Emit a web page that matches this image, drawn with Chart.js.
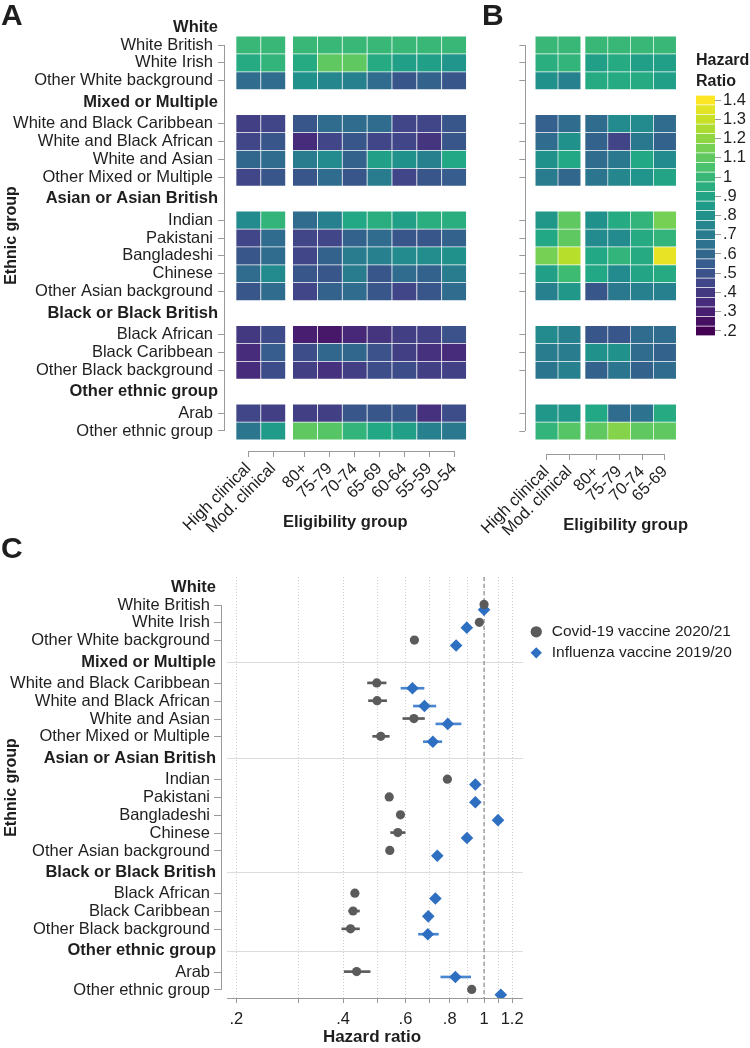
<!DOCTYPE html>
<html><head><meta charset="utf-8">
<script src="https://cdn.jsdelivr.net/npm/chart.js@4.4.1/dist/chart.umd.min.js"></script>
<style>
html,body{margin:0;padding:0;background:#fff;}
body{width:750px;height:1048px;position:relative;overflow:hidden;}
canvas{position:absolute;}
</style></head><body>
<canvas id="cA" width="480" height="535" style="left:0px;top:0px"></canvas>
<canvas id="cB" width="250" height="540" style="left:480px;top:0px"></canvas>
<canvas id="cL" width="70" height="400" style="left:680px;top:0px"></canvas>
<canvas id="cC" width="750" height="528" style="left:0px;top:520px"></canvas>
<script>
const FONT = "'Liberation Sans', Arial, Helvetica, sans-serif";
Chart.defaults.font.family = FONT;
Chart.defaults.color = '#1e1e1e';

// ---------------- DATA ----------------
const groupNames = ['White', 'Mixed or Multiple', 'Asian or Asian British', 'Black or Black British', 'Other ethnic group'];
const groupRows = [
  ['White British', 'White Irish', 'Other White background'],
  ['White and Black Caribbean', 'White and Black African', 'White and Asian', 'Other Mixed or Multiple'],
  ['Indian', 'Pakistani', 'Bangladeshi', 'Chinese', 'Other Asian background'],
  ['Black African', 'Black Caribbean', 'Other Black background'],
  ['Arab', 'Other ethnic group']
];
const eligA = ['High clinical', 'Mod. clinical', '80+', '75-79', '70-74', '65-69', '60-64', '55-59', '50-54'];
const eligB = ['High clinical', 'Mod. clinical', '80+', '75-79', '70-74', '65-69'];

// Panel A: Covid-19 vaccine hazard ratios (rows x eligibility groups)
const hrA = [
  [1.00, 1.00, 1.00, 1.00, 1.00, 1.00, 1.00, 1.00, 1.00],
  [0.93, 0.98, 0.93, 1.10, 1.10, 0.93, 0.88, 0.88, 0.82],
  [0.62, 0.62, 0.80, 0.75, 0.72, 0.62, 0.52, 0.58, 0.52],
  [0.42, 0.45, 0.52, 0.62, 0.62, 0.62, 0.45, 0.45, 0.52],
  [0.45, 0.52, 0.35, 0.45, 0.52, 0.45, 0.45, 0.38, 0.52],
  [0.60, 0.62, 0.70, 0.77, 0.58, 0.88, 0.80, 0.72, 0.92],
  [0.45, 0.52, 0.52, 0.62, 0.52, 0.70, 0.45, 0.52, 0.55],
  [0.77, 0.98, 0.62, 0.72, 0.92, 0.95, 0.88, 0.95, 0.95],
  [0.45, 0.62, 0.45, 0.45, 0.58, 0.62, 0.52, 0.52, 0.58],
  [0.52, 0.62, 0.45, 0.58, 0.70, 0.72, 0.77, 0.78, 0.80],
  [0.62, 0.77, 0.52, 0.52, 0.70, 0.52, 0.62, 0.58, 0.70],
  [0.52, 0.62, 0.45, 0.58, 0.62, 0.52, 0.45, 0.52, 0.62],
  [0.40, 0.47, 0.30, 0.28, 0.33, 0.38, 0.42, 0.43, 0.50],
  [0.35, 0.55, 0.48, 0.60, 0.60, 0.50, 0.42, 0.37, 0.35],
  [0.35, 0.48, 0.42, 0.37, 0.42, 0.48, 0.48, 0.42, 0.43],
  [0.45, 0.42, 0.42, 0.42, 0.52, 0.52, 0.52, 0.37, 0.48],
  [0.67, 0.85, 1.10, 1.08, 0.98, 0.92, 0.88, 0.72, 0.68]
];
// Panel B: Influenza vaccine hazard ratios
const hrB = [
  [1.00, 1.00, 1.00, 1.00, 1.00, 1.00],
  [0.95, 0.98, 0.88, 0.93, 0.88, 0.88],
  [0.80, 0.72, 0.93, 0.93, 0.93, 0.88],
  [0.57, 0.62, 0.62, 0.77, 0.77, 0.62],
  [0.62, 0.80, 0.58, 0.44, 0.68, 0.58],
  [0.80, 0.92, 0.62, 0.68, 0.92, 0.77],
  [0.70, 0.60, 0.67, 0.75, 0.82, 0.90],
  [0.83, 1.10, 0.80, 0.93, 0.98, 1.15],
  [0.92, 1.10, 0.77, 0.77, 0.93, 0.98],
  [1.15, 1.27, 0.92, 0.98, 0.93, 1.36],
  [0.88, 1.02, 0.92, 0.77, 0.90, 0.93],
  [0.72, 0.83, 0.52, 0.68, 0.72, 0.72],
  [0.77, 0.72, 0.52, 0.52, 0.62, 0.62],
  [0.70, 0.70, 0.80, 0.80, 0.62, 0.58],
  [0.67, 0.72, 0.58, 0.67, 0.58, 0.62],
  [0.83, 0.83, 0.92, 0.62, 0.65, 0.93],
  [0.98, 1.08, 1.10, 1.18, 1.10, 1.10]
];
// Panel C: overall hazard ratios with confidence intervals (null = CI hidden behind marker)
const covidHR = [1.00, 0.97, 0.636, 0.498, 0.499, 0.634, 0.511, 0.788, 0.540, 0.581, 0.571, 0.542, 0.432, 0.427, 0.420, 0.437, 0.923];
const covidLo = [null, null, null, 0.469, 0.472, 0.590, 0.485, null, null, null, 0.545, null, null, 0.415, 0.397, 0.403, null];
const covidHi = [null, null, null, 0.529, 0.531, 0.679, 0.540, null, null, null, 0.599, null, null, 0.445, 0.445, 0.477, null];
const fluHR   = [1.00, 0.894, 0.834, 0.628, 0.679, 0.790, 0.717, 0.945, 0.945, 1.095, 0.895, 0.738, 0.729, 0.696, 0.694, 0.830, 1.115];
const fluLo   = [null, null, null, 0.583, 0.632, 0.731, 0.674, null, null, null, null, null, null, null, 0.653, 0.755, null];
const fluHi   = [null, null, null, 0.677, 0.731, 0.861, 0.760, null, null, null, null, null, null, null, 0.743, 0.917, null];
const seriesNames = ['Covid-19 vaccine 2020/21', 'Influenza vaccine 2019/20'];

// Colour bar levels and ticks
const cbLevels = [0.2, 0.25, 0.3, 0.35, 0.4, 0.45, 0.5, 0.55, 0.6, 0.65, 0.7, 0.75, 0.8, 0.85, 0.9, 0.95, 1.0, 1.05, 1.1, 1.15, 1.2, 1.25, 1.3, 1.35, 1.4];
const cbTicks = [0.2, 0.3, 0.4, 0.5, 0.6, 0.7, 0.8, 0.9, 1.0, 1.1, 1.2, 1.3, 1.4];
const cbTickLabels = ['.2', '.3', '.4', '.5', '.6', '.7', '.8', '.9', '1', '1.1', '1.2', '1.3', '1.4'];
const hrTicks = [0.2, 0.3, 0.4, 0.5, 0.6, 0.7, 0.8, 0.9, 1.0, 1.1, 1.2];
const hrTickLabels = ['.2', '', '.4', '', '.6', '', '.8', '', '1', '', '1.2'];

// ---------------- LAYOUT HELPERS ----------------
const rowLabels = groupRows.flat();
const rowPos = [], headPos = [];
(function () {
  let last = 0;
  groupRows.forEach((rows, g) => {
    let start;
    if (g === 0) { headPos.push(-1); start = 0; }
    else { const h = last + 1.2; headPos.push(h); start = h + 1.2; }
    rows.forEach((r, i) => rowPos.push(start + i));
    last = start + rows.length - 1;
  });
})();
function colPositions(n, gap) { const a = []; for (let j = 0; j < n; j++) a.push(j < 2 ? j : j + gap); return a; }
const colPosA = colPositions(eligA.length, 0.28);
const colPosB = colPositions(eligB.length, 0.18);

const VIR = ['#440154', '#482475', '#414487', '#355f8d', '#2a788e', '#21918c', '#22a884', '#44bf70', '#7ad151', '#bddf26', '#fde725'];
function hx(h) { return [parseInt(h.slice(1, 3), 16), parseInt(h.slice(3, 5), 16), parseInt(h.slice(5, 7), 16)]; }
function viridis(t) {
  t = Math.max(0, Math.min(1, t));
  const s = t * 10, i = Math.min(9, Math.floor(s)), f = s - i;
  const a = hx(VIR[i]), b = hx(VIR[i + 1]);
  const c = a.map((v, k) => Math.round(v + (b[k] - v) * f));
  return 'rgb(' + c.join(',') + ')';
}
function hrColor(v) { return viridis((v - 0.2) / 1.2); }

function heatData(hr, cols) {
  const d = [], c = [];
  hr.forEach((row, i) => row.forEach((v, j) => {
    d.push({ y: rowPos[i], x: [cols[j] - 0.47, cols[j] + 0.47] });
    c.push(hrColor(v));
  }));
  return { d, c };
}

const TXT = '#1e1e1e', AX = '#9a9a9a';

function heatDecor(id, letter, lx, ly, cols, headings) {
  return {
    id: id,
    afterDraw(chart) {
      const { ctx, chartArea, scales: { x, y } } = chart;
      ctx.save();
      ctx.strokeStyle = AX; ctx.lineWidth = 1;
      const sx = Math.round(chartArea.left) + 0.5;
      ctx.beginPath();
      ctx.moveTo(sx, y.getPixelForValue(rowPos[0]));
      ctx.lineTo(sx, y.getPixelForValue(rowPos[rowPos.length - 1]));
      ctx.stroke();
      const by = Math.round(chartArea.bottom) + 0.5;
      ctx.beginPath();
      ctx.moveTo(x.getPixelForValue(cols[0]), by);
      ctx.lineTo(x.getPixelForValue(cols[cols.length - 1]), by);
      ctx.stroke();
      ctx.fillStyle = TXT;
      if (headings) {
        ctx.font = 'bold 16.5px ' + FONT;
        ctx.textAlign = 'right'; ctx.textBaseline = 'middle';
        headPos.forEach((p, i) => ctx.fillText(groupNames[i], chartArea.left - 6, y.getPixelForValue(p)));
      }
      ctx.font = 'bold 30px ' + FONT;
      ctx.textAlign = 'left'; ctx.textBaseline = 'alphabetic';
      ctx.fillText(letter, lx, ly);
      ctx.restore();
    }
  };
}

function heatChart(canvasId, hr, cols, labels, cfg) {
  const h = heatData(hr, cols);
  return new Chart(document.getElementById(canvasId), {
    type: 'bar',
    data: { datasets: [{ data: h.d, backgroundColor: h.c, borderWidth: 0, barThickness: 16.4, grouped: false, indexAxis: 'y' }] },
    options: {
      indexAxis: 'y', responsive: false, animation: false, events: [],
      layout: { padding: { top: 20, right: cfg.padRight, left: 0, bottom: 0 } },
      plugins: { legend: { display: false }, tooltip: { enabled: false } },
      scales: {
        x: {
          type: 'linear', min: cfg.xmin, max: cfg.xmax, offset: false,
          afterBuildTicks: s => { s.ticks = cols.map(v => ({ value: v })); },
          afterFit: s => { s.height = cfg.xh; },
          grid: { drawOnChartArea: false, drawTicks: true, tickLength: 6, tickColor: AX, offset: false },
          border: { display: false },
          ticks: { autoSkip: false, maxRotation: 45, minRotation: 45, padding: 2, font: { size: 16.5 }, color: TXT, callback: (v, i) => labels[i] },
          title: { display: true, text: 'Eligibility group', font: { size: 16.5, weight: 'bold' }, color: TXT, padding: { top: 0, bottom: cfg.tpb } }
        },
        y: {
          type: 'linear', reverse: true, min: -1.4, max: cfg.ymax, offset: false,
          afterBuildTicks: s => { s.ticks = rowPos.map(v => ({ value: v })); },
          afterFit: s => { s.width = cfg.yw; },
          grid: { drawOnChartArea: false, drawTicks: true, tickLength: 6, tickColor: AX, offset: false },
          border: { display: false },
          ticks: { display: cfg.ylabels, autoSkip: false, padding: 5, font: { size: 16.5 }, color: TXT, callback: (v, i) => rowLabels[i] },
          title: { display: cfg.ylabels, text: 'Ethnic group', font: { size: 16, weight: 'bold' }, color: TXT, padding: { top: 2, bottom: 0 } }
        }
      }
    },
    plugins: [heatDecor(canvasId + 'decor', cfg.letter, cfg.lx, cfg.ly, cols, cfg.ylabels)]
  });
}

// Panel A
heatChart('cA', hrA, colPosA, eligA, { padRight: 13.5, xmin: -0.98, xmax: 8.78, xh: 84, tpb: 3, ymax: 22.72, yw: 224, ylabels: true, letter: 'A', lx: 1, ly: 25 });
// Panel B
heatChart('cB', hrB, colPosB, eligB, { padRight: 4, xmin: -0.93, xmax: 7.854, xh: 86, tpb: 5, ymax: 22.887, yw: 22, ylabels: false, letter: 'B', lx: 2, ly: 25 });

// Colour bar
new Chart(document.getElementById('cL'), {
  type: 'bar',
  data: { datasets: [{ data: cbLevels.map(v => ({ y: v, x: [0, 1] })), backgroundColor: cbLevels.map(hrColor), borderWidth: 0, barThickness: 8.3, indexAxis: 'y' }] },
  options: {
    indexAxis: 'y', responsive: false, animation: false, events: [],
    layout: { padding: { top: 50, left: 16, right: 0, bottom: 64.2 } },
    plugins: {
      legend: { display: false }, tooltip: { enabled: false },
      title: { display: true, text: ['Hazard', 'Ratio'], align: 'start', color: TXT, font: { size: 16, weight: 'bold', lineHeight: 1.3 }, padding: { top: 0, bottom: 3.6 } }
    },
    scales: {
      x: { type: 'linear', display: false, min: 0, max: 1 },
      y: {
        type: 'linear', position: 'right', min: 0.175, max: 1.425, offset: false,
        afterBuildTicks: s => { s.ticks = cbTicks.map(v => ({ value: v })); },
        afterFit: s => { s.width = 35; },
        grid: { drawOnChartArea: false, drawTicks: true, tickLength: 6, tickColor: AX, offset: false },
        border: { display: false },
        ticks: { autoSkip: false, padding: 2, font: { size: 16.5 }, color: TXT, callback: (v, i) => cbTickLabels[i] }
      }
    }
  }
});

// Panel C
const C_YMIN = -1.571, C_YMAX = 22.05, OFF_COV = -0.03, OFF_FLU = 0.27;
const LEG_FONT = 15.5, LEG_PAD = 5.5, LEG_BOX = 15.5;
const legendTextW = (function () {
  const c = document.createElement('canvas').getContext('2d');
  c.font = LEG_FONT + 'px ' + FONT;
  return Math.max(...seriesNames.map(s => c.measureText(s).width));
})();
const legendW = LEG_PAD + LEG_BOX + LEG_FONT / 2 + legendTextW + 10;
const C_RIGHT = 523;
const padRightC = Math.max(0, 750 - C_RIGHT - legendW);

function ciData(lo, hi, off) {
  const out = [];
  lo.forEach((l, i) => { if (l != null && hi[i] != null) out.push({ y: rowPos[i] + off, x: [l, hi[i]] }); });
  return out;
}
const forestDecor = {
  id: 'forestDecor',
  beforeDatasetsDraw(chart) {
    const { ctx, chartArea, scales: { y } } = chart;
    ctx.save();
    ctx.strokeStyle = '#dcdcdc'; ctx.lineWidth = 1;
    headPos.slice(1).forEach(p => {
      const py = Math.round(y.getPixelForValue(p)) + 0.5;
      ctx.beginPath(); ctx.moveTo(chartArea.left + 6, py); ctx.lineTo(chartArea.right, py); ctx.stroke();
    });
    ctx.restore();
  },
  afterDraw(chart) {
    const { ctx, chartArea, scales: { y } } = chart;
    ctx.save();
    ctx.strokeStyle = AX; ctx.lineWidth = 1;
    const sx = Math.round(chartArea.left) + 0.5;
    ctx.beginPath();
    ctx.moveTo(sx, y.getPixelForValue(rowPos[0]));
    ctx.lineTo(sx, y.getPixelForValue(rowPos[rowPos.length - 1]));
    ctx.stroke();
    const by = Math.round(chartArea.bottom) + 0.5;
    ctx.beginPath(); ctx.moveTo(chartArea.left + 6, by); ctx.lineTo(chartArea.right, by); ctx.stroke();
    ctx.fillStyle = TXT;
    ctx.font = 'bold 16.5px ' + FONT;
    ctx.textAlign = 'right'; ctx.textBaseline = 'middle';
    headPos.forEach((p, i) => ctx.fillText(groupNames[i], chartArea.left - 5, y.getPixelForValue(p)));
    ctx.font = 'bold 30px ' + FONT;
    ctx.textAlign = 'left'; ctx.textBaseline = 'alphabetic';
    ctx.fillText('C', 1, 38);
    ctx.restore();
  }
};

new Chart(document.getElementById('cC'), {
  type: 'scatter',
  data: {
    datasets: [
      { type: 'scatter', label: seriesNames[0], data: covidHR.map((v, i) => ({ x: v, y: rowPos[i] + OFF_COV })),
        pointStyle: 'circle', pointRadius: 4.6, pointBackgroundColor: '#5b5b5b', pointBorderColor: '#5b5b5b', pointBorderWidth: 0,
        backgroundColor: '#5b5b5b', borderColor: '#5b5b5b', order: 1 },
      { type: 'scatter', label: seriesNames[1], data: fluHR.map((v, i) => ({ x: v, y: rowPos[i] + OFF_FLU })),
        pointStyle: 'rectRot', pointRadius: 6.3, pointBackgroundColor: '#2f6fc1', pointBorderColor: '#2f6fc1', pointBorderWidth: 0,
        backgroundColor: '#2f6fc1', borderColor: '#2f6fc1', order: 1 },
      { type: 'bar', label: 'covid CI', indexAxis: 'y', data: ciData(covidLo, covidHi, OFF_COV), backgroundColor: '#5b5b5b', barThickness: 2, grouped: false, order: 2 },
      { type: 'bar', label: 'flu CI', indexAxis: 'y', data: ciData(fluLo, fluHi, OFF_FLU), backgroundColor: '#4a86cf', barThickness: 2, grouped: false, order: 2 },
      { type: 'line', label: 'reference', data: [{ x: 1, y: C_YMIN }, { x: 1, y: C_YMAX }], borderColor: '#8a8a8a', borderDash: [4, 3], borderWidth: 1.2, pointRadius: 0, order: 3 }
    ]
  },
  options: {
    responsive: false, animation: false, events: [],
    layout: { padding: { top: 57, right: padRightC, left: 0, bottom: 0 } },
    plugins: {
      tooltip: { enabled: false },
      legend: {
        display: true, position: 'right', align: 'start', maxWidth: 300,
        title: { display: true, text: ' ', font: { size: LEG_FONT }, padding: { top: 0, bottom: 23 } },
        labels: { usePointStyle: true, boxWidth: LEG_BOX, boxHeight: 8, padding: LEG_PAD, font: { size: LEG_FONT }, color: TXT,
          filter: item => item.datasetIndex < 2 }
      }
    },
    scales: {
      x: {
        type: 'logarithmic', min: 0.181, max: 1.288,
        afterBuildTicks: s => { s.ticks = hrTicks.map(v => ({ value: v })); },
        afterFit: s => { s.height = 50; },
        grid: { color: '#cfcfcf', lineWidth: 1, drawTicks: true, tickLength: 5, tickColor: AX, tickBorderDash: [] },
        border: { display: false, dash: [1, 2] },
        ticks: { autoSkip: false, maxRotation: 0, minRotation: 0, padding: 7, font: { size: 16.5 }, color: TXT, callback: (v, i) => hrTickLabels[i] },
        title: { display: true, text: 'Hazard ratio', font: { size: 17, weight: 'bold' }, color: TXT, padding: { top: 0, bottom: 0 } }
      },
      y: {
        type: 'linear', reverse: true, min: C_YMIN, max: C_YMAX, offset: false,
        afterBuildTicks: s => { s.ticks = rowPos.map(v => ({ value: v })); },
        afterFit: s => { s.width = 221; },
        grid: { drawOnChartArea: false, drawTicks: true, tickLength: 7, tickColor: AX, offset: false },
        border: { display: false },
        ticks: { autoSkip: false, padding: 4, font: { size: 16.5 }, color: TXT, callback: (v, i) => rowLabels[i] },
        title: { display: true, text: 'Ethnic group', font: { size: 16, weight: 'bold' }, color: TXT, padding: { top: 2, bottom: 0 } }
      }
    }
  },
  plugins: [forestDecor]
});
</script>
</body></html>
